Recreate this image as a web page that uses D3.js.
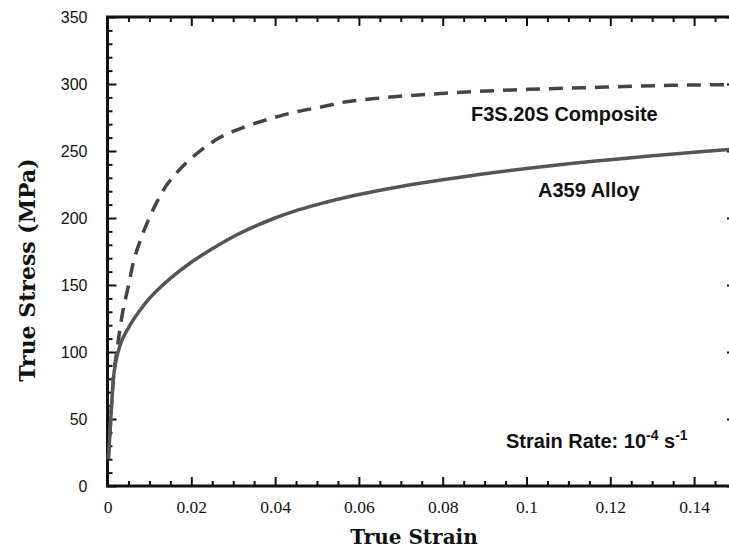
<!DOCTYPE html>
<html>
<head>
<meta charset="utf-8">
<script src="https://cdn.jsdelivr.net/npm/d3@7"></script>
<style>
  body { margin: 0; background: #fff; }
  svg { display: block; }
</style>
</head>
<body>
<svg id="chart" width="729" height="549"></svg>
<script>
// A359 alloy (solid)
let alloyStrain = [0.0002, 0.0006, 0.0010, 0.0014, 0.0020, 0.0030, 0.0050, 0.0075, 0.0100, 0.0125, 0.0150, 0.0200, 0.0250, 0.0300, 0.0350, 0.0400, 0.0450, 0.0500, 0.0600, 0.0700, 0.0800, 0.0900, 0.1000, 0.1100, 0.1200, 0.1300, 0.1400, 0.1500]
let alloyStress = [20, 40, 62, 80, 93, 105, 118, 130, 140, 148, 155, 167, 177, 186, 193.5, 200, 205.5, 210, 217.5, 223.5, 228.5, 233, 237, 240.5, 243.5, 246.5, 249, 251.5]

// F3S.20S composite (dashed)
let compStrain = [0.0002, 0.0006, 0.0010, 0.0014, 0.0022, 0.0030, 0.0037, 0.0049, 0.0061, 0.0078, 0.0097, 0.0118, 0.0140, 0.0166, 0.0213, 0.0268, 0.0328, 0.0392, 0.0447, 0.0512, 0.0566, 0.0650, 0.0800, 0.1005, 0.1170, 0.1350, 0.1500]
let compStress = [20, 40, 62, 80, 100, 118, 131, 148, 166, 183, 198, 212, 224, 234, 248, 260, 268, 274.5, 279, 283, 286.5, 289.5, 293, 296, 297.5, 299, 299.5]

let xTicks = [0, 0.02, 0.04, 0.06, 0.08, 0.1, 0.12, 0.14]
let xTickLabels = ['0', '0.02', '0.04', '0.06', '0.08', '0.1', '0.12', '0.14']
let yTicks = [0, 50, 100, 150, 200, 250, 300, 350]

let svg = d3.select('#chart')

let xScale = d3.scaleLinear().domain([0, 0.15]).range([107.5, 736])
let yScale = d3.scaleLinear().domain([0, 350]).range([486, 17])

let xMinor = d3.range(0, 0.1501, 0.005).filter(v => Math.abs(v / 0.02 - Math.round(v / 0.02)) > 1e-6)
let yMinor = d3.range(0, 351, 10).filter(v => v % 50 !== 0)

let axisColor = '#111'

let styleAxis = (g) => {
  g.select('.domain').remove()
  g.selectAll('line').attr('stroke', axisColor).attr('stroke-width', 2)
}

// minor ticks, all four sides
svg.append('g').attr('transform', 'translate(0,486)')
   .call(d3.axisBottom(xScale).tickValues(xMinor).tickSize(-5).tickFormat(''))
   .call(styleAxis)
svg.append('g').attr('transform', 'translate(0,17)')
   .call(d3.axisTop(xScale).tickValues(xMinor).tickSize(-5).tickFormat(''))
   .call(styleAxis)
svg.append('g').attr('transform', 'translate(107.5,0)')
   .call(d3.axisLeft(yScale).tickValues(yMinor).tickSize(-5).tickFormat(''))
   .call(styleAxis)
svg.append('g').attr('transform', 'translate(736,0)')
   .call(d3.axisRight(yScale).tickValues(yMinor).tickSize(-5).tickFormat(''))
   .call(styleAxis)

// major ticks
let xAxis = svg.append('g').attr('transform', 'translate(0,486)')
   .call(d3.axisBottom(xScale).tickValues(xTicks).tickSize(-9).tickPadding(15)
          .tickFormat((d, i) => xTickLabels[i]))
   .call(styleAxis)
xAxis.selectAll('text')
   .attr('font-family', '"Liberation Serif", "DejaVu Serif", serif')
   .attr('font-size', 17.5).attr('fill', axisColor)

svg.append('g').attr('transform', 'translate(0,17)')
   .call(d3.axisTop(xScale).tickValues(xTicks).tickSize(-9).tickFormat(''))
   .call(styleAxis)

let yAxis = svg.append('g').attr('transform', 'translate(107.5,0)')
   .call(d3.axisLeft(yScale).tickValues(yTicks).tickSize(-9).tickPadding(20))
   .call(styleAxis)
yAxis.selectAll('text')
   .attr('font-family', '"Liberation Sans", Arial, sans-serif')
   .attr('font-size', 16).attr('fill', axisColor)

svg.append('g').attr('transform', 'translate(736,0)')
   .call(d3.axisRight(yScale).tickValues(yTicks).tickSize(-9).tickFormat(''))
   .call(styleAxis)

// frame
svg.append('rect')
   .attr('x', xScale(0)).attr('y', yScale(350))
   .attr('width', xScale(0.15) - xScale(0)).attr('height', yScale(0) - yScale(350))
   .attr('fill', 'none').attr('stroke', axisColor).attr('stroke-width', 3)

// curves
let line = d3.line()
   .x(d => xScale(d[0]))
   .y(d => yScale(d[1]))
   .curve(d3.curveMonotoneX)

let alloyData = alloyStrain.map((s, i) => [s, alloyStress[i]])
let compData = compStrain.map((s, i) => [s, compStress[i]])

svg.append('path').datum(compData)
   .attr('d', line).attr('fill', 'none')
   .attr('stroke', '#444').attr('stroke-width', 3.5)
   .attr('stroke-dasharray', '14,9')

svg.append('path').datum(alloyData)
   .attr('d', line).attr('fill', 'none')
   .attr('stroke', '#555').attr('stroke-width', 3.5)

// annotations
let labelFont = '"Liberation Sans", Arial, sans-serif'

svg.append('text').attr('x', 471).attr('y', 121)
   .attr('font-family', labelFont).attr('font-weight', 'bold').attr('font-size', 20)
   .attr('fill', axisColor).text('F3S.20S Composite')

svg.append('text').attr('x', 538).attr('y', 197)
   .attr('font-family', labelFont).attr('font-weight', 'bold').attr('font-size', 20)
   .attr('fill', axisColor).text('A359 Alloy')

let rate = svg.append('text').attr('x', 506).attr('y', 448)
   .attr('font-family', labelFont).attr('font-weight', 'bold').attr('font-size', 20)
   .attr('fill', axisColor)
rate.append('tspan').text('Strain Rate: 10')
rate.append('tspan').attr('font-size', 14).attr('dy', -8).text('-4')
rate.append('tspan').attr('dy', 8).text(' s')
rate.append('tspan').attr('font-size', 14).attr('dy', -8).text('-1')

// axis titles
let titleFont = '"DejaVu Serif", "Liberation Serif", serif'

svg.append('text')
   .attr('x', 414).attr('y', 544)
   .attr('text-anchor', 'middle')
   .attr('font-family', titleFont).attr('font-weight', 'bold').attr('font-size', 20)
   .attr('fill', axisColor).text('True Strain')

svg.append('text')
   .attr('transform', 'translate(35,270) rotate(-90)')
   .attr('text-anchor', 'middle')
   .attr('font-family', titleFont).attr('font-weight', 'bold').attr('font-size', 22)
   .attr('fill', axisColor).text('True Stress (MPa)')
</script>
</body>
</html>
